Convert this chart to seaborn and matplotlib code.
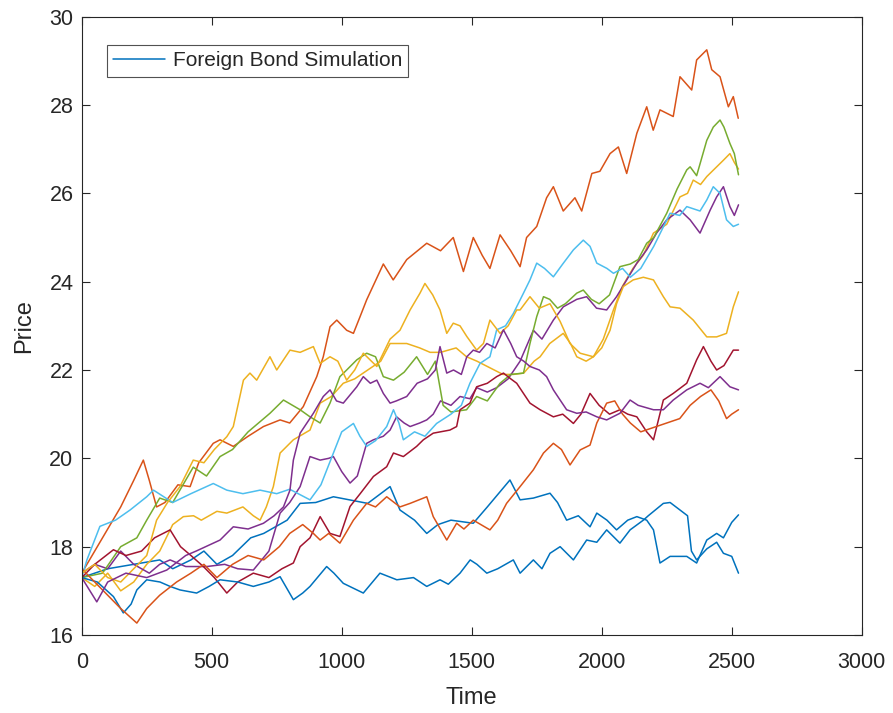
import matplotlib
matplotlib.use("Agg")
import matplotlib.pyplot as plt
import seaborn as sns
import pandas as pd

# ---- data (time, price) ----
blue1_t = [0, 100, 200, 300, 350, 420, 470, 520, 580, 650, 700, 790, 840, 900, 968, 1100, 1186, 1224, 1280, 1327, 1370, 1420, 1506, 1560, 1647, 1686, 1737, 1801, 1830, 1865, 1910, 1955, 1981, 2020, 2057, 2100, 2135, 2173, 2199, 2224, 2263, 2327, 2365, 2404, 2442, 2468, 2500, 2526]
blue1_v = [17.3, 17.5, 17.6, 17.7, 17.5, 17.7, 17.9, 17.6, 17.8, 18.2, 18.3, 18.6, 18.98, 19.0, 19.13, 18.98, 19.36, 18.83, 18.6, 18.3, 18.5, 18.6, 18.53, 18.9, 19.51, 19.06, 19.1, 19.21, 19.0, 18.6, 18.7, 18.45, 18.76, 18.6, 18.38, 18.6, 18.68, 18.6, 18.38, 17.63, 17.78, 17.78, 17.63, 18.15, 18.3, 18.2, 18.55, 18.72]

orange1_t = [0, 40, 100, 150, 200, 237, 260, 288, 320, 370, 417, 450, 506, 532, 583, 640, 699, 763, 800, 852, 904, 929, 955, 981, 1019, 1045, 1070, 1096, 1160, 1198, 1250, 1327, 1380, 1429, 1468, 1506, 1540, 1570, 1609, 1650, 1686, 1711, 1750, 1788, 1814, 1852, 1897, 1923, 1962, 1993, 2032, 2064, 2096, 2135, 2173, 2198, 2224, 2275, 2301, 2346, 2365, 2404, 2423, 2455, 2487, 2506, 2525]
orange1_v = [17.4, 17.8, 18.4, 18.9, 19.5, 19.96, 19.5, 18.9, 19.0, 19.4, 19.36, 19.9, 20.34, 20.42, 20.27, 20.5, 20.72, 20.87, 20.8, 21.17, 21.85, 22.3, 22.98, 23.13, 22.9, 22.83, 23.2, 23.59, 24.4, 24.04, 24.5, 24.87, 24.7, 25.0, 24.23, 25.0, 24.6, 24.3, 25.06, 24.7, 24.34, 25.0, 25.25, 25.9, 26.15, 25.6, 25.9, 25.6, 26.45, 26.5, 26.9, 27.05, 26.45, 27.36, 27.96, 27.43, 27.89, 27.74, 28.64, 28.34, 29.02, 29.25, 28.8, 28.64, 27.96, 28.19, 27.7]

yellow1_t = [0, 50, 100, 150, 200, 250, 300, 350, 391, 430, 460, 520, 558, 620, 660, 686, 710, 737, 763, 814, 878, 917, 960, 1006, 1050, 1100, 1150, 1186, 1250, 1300, 1340, 1380, 1440, 1480, 1520, 1570, 1620, 1660, 1700, 1740, 1763, 1800, 1852, 1880, 1904, 1940, 1968, 2006, 2045, 2080, 2120, 2160, 2199, 2250, 2301, 2330, 2352, 2380, 2404, 2442, 2468, 2493, 2510, 2526]
yellow1_v = [17.3, 17.1, 17.4, 17.0, 17.2, 17.6, 17.9, 18.5, 18.68, 18.7, 18.6, 18.8, 18.76, 18.9, 18.7, 18.6, 18.9, 19.36, 20.12, 20.42, 20.64, 21.25, 21.4, 21.7, 21.8, 22.0, 22.2, 22.6, 22.6, 22.5, 22.4, 22.4, 22.5, 22.3, 22.2, 22.05, 21.9, 21.9, 21.93, 22.2, 22.3, 22.6, 22.83, 22.6, 22.3, 22.2, 22.3, 22.7, 23.36, 23.9, 24.3, 24.6, 25.1, 25.3, 25.92, 26.0, 26.3, 26.2, 26.38, 26.6, 26.75, 26.9, 26.7, 26.55]

purple1_t = [0, 50, 100, 150, 200, 260, 300, 340, 400, 481, 550, 600, 660, 720, 763, 800, 840, 878, 917, 950, 968, 1000, 1032, 1060, 1096, 1122, 1160, 1186, 1211, 1240, 1263, 1300, 1327, 1352, 1380, 1420, 1455, 1493, 1519, 1560, 1596, 1640, 1686, 1737, 1770, 1814, 1852, 1904, 1942, 1980, 2019, 2057, 2096, 2135, 2173, 2211, 2250, 2301, 2340, 2378, 2417, 2442, 2468, 2493, 2510, 2526]
purple1_v = [17.4, 17.6, 17.5, 17.9, 17.6, 17.4, 17.6, 17.7, 17.55, 17.55, 17.6, 17.5, 17.47, 17.9, 18.76, 19.0, 19.36, 20.04, 19.96, 20.0, 20.04, 19.7, 19.44, 19.6, 20.34, 20.42, 20.5, 20.64, 20.94, 20.8, 20.72, 20.8, 20.87, 21.0, 21.3, 21.2, 21.4, 21.35, 21.6, 21.5, 21.6, 21.8, 22.2, 22.9, 22.7, 23.13, 23.43, 23.6, 23.66, 23.4, 23.36, 23.66, 24.04, 24.42, 24.72, 25.1, 25.4, 25.62, 25.4, 25.1, 25.62, 25.92, 26.15, 25.7, 25.5, 25.74]

green_t = [0, 80, 150, 212, 250, 300, 350, 429, 480, 532, 580, 640, 724, 776, 840, 878, 917, 955, 993, 1019, 1058, 1096, 1130, 1160, 1199, 1240, 1288, 1330, 1360, 1390, 1420, 1480, 1519, 1560, 1609, 1650, 1699, 1724, 1750, 1776, 1800, 1830, 1860, 1904, 1929, 1960, 1990, 2030, 2070, 2110, 2140, 2173, 2200, 2250, 2290, 2327, 2340, 2365, 2404, 2429, 2455, 2470, 2493, 2510, 2526]
green_v = [17.3, 17.4, 18.0, 18.2, 18.6, 19.1, 19.0, 19.8, 19.6, 20.04, 20.2, 20.6, 21.02, 21.32, 21.1, 20.94, 20.8, 21.25, 21.85, 22.0, 22.23, 22.38, 22.3, 21.85, 21.77, 21.95, 22.3, 21.9, 22.2, 21.2, 21.05, 21.1, 21.4, 21.3, 21.7, 21.9, 21.93, 22.6, 23.21, 23.66, 23.6, 23.4, 23.5, 23.74, 23.81, 23.6, 23.5, 23.7, 24.34, 24.4, 24.5, 24.87, 25.0, 25.55, 26.1, 26.53, 26.6, 26.4, 27.2, 27.5, 27.66, 27.5, 27.13, 26.9, 26.42]

lightblue_t = [0, 20, 70, 130, 186, 250, 276, 350, 420, 506, 558, 620, 686, 750, 800, 878, 920, 960, 1000, 1045, 1070, 1096, 1130, 1173, 1199, 1220, 1237, 1280, 1320, 1365, 1420, 1460, 1493, 1532, 1570, 1596, 1630, 1660, 1699, 1724, 1750, 1780, 1814, 1850, 1891, 1929, 1955, 1981, 2020, 2045, 2080, 2110, 2150, 2200, 2263, 2300, 2327, 2378, 2404, 2429, 2455, 2480, 2506, 2526]
lightblue_v = [17.3, 17.7, 18.46, 18.6, 18.83, 19.13, 19.28, 19.0, 19.2, 19.43, 19.28, 19.2, 19.28, 19.2, 19.3, 19.06, 19.4, 20.0, 20.6, 20.79, 20.5, 20.27, 20.4, 20.72, 21.1, 20.8, 20.42, 20.6, 20.5, 20.79, 21.0, 21.2, 21.7, 22.15, 22.3, 22.91, 23.0, 23.28, 23.74, 24.04, 24.42, 24.3, 24.11, 24.4, 24.72, 24.94, 24.8, 24.42, 24.3, 24.19, 24.3, 24.1, 24.3, 24.8, 25.55, 25.5, 25.7, 25.6, 25.85, 26.15, 26.0, 25.4, 25.25, 25.3]

darkred_t = [0, 50, 122, 170, 230, 280, 340, 380, 420, 468, 510, 558, 600, 660, 720, 770, 814, 840, 878, 917, 955, 993, 1032, 1071, 1122, 1173, 1199, 1237, 1288, 1314, 1352, 1416, 1442, 1455, 1493, 1519, 1560, 1596, 1622, 1650, 1673, 1699, 1724, 1763, 1814, 1850, 1891, 1920, 1955, 1990, 2030, 2070, 2100, 2135, 2173, 2199, 2237, 2275, 2327, 2365, 2391, 2420, 2442, 2470, 2506, 2526]
darkred_v = [17.3, 17.6, 17.93, 17.8, 17.9, 18.2, 18.38, 18.0, 17.8, 17.55, 17.3, 16.95, 17.2, 17.4, 17.3, 17.5, 17.63, 18.0, 18.2, 18.68, 18.3, 18.23, 18.91, 19.2, 19.59, 19.81, 20.12, 20.04, 20.27, 20.42, 20.57, 20.64, 20.72, 21.1, 21.25, 21.62, 21.7, 21.85, 21.93, 21.8, 21.7, 21.47, 21.25, 21.1, 20.94, 21.0, 20.79, 21.0, 21.47, 21.2, 21.0, 21.1, 21.0, 20.94, 20.6, 20.42, 21.32, 21.47, 21.7, 22.23, 22.53, 22.2, 22.0, 22.1, 22.45, 22.45]

blue2_t = [0, 60, 122, 160, 190, 212, 250, 301, 340, 378, 442, 490, 532, 600, 660, 720, 763, 814, 850, 878, 942, 970, 1006, 1083, 1147, 1212, 1276, 1327, 1378, 1410, 1455, 1494, 1520, 1558, 1600, 1660, 1686, 1737, 1770, 1801, 1840, 1891, 1942, 1981, 2019, 2070, 2109, 2160, 2179, 2237, 2263, 2301, 2330, 2345, 2365, 2404, 2442, 2468, 2500, 2526]
blue2_v = [17.3, 17.2, 16.87, 16.5, 16.7, 17.02, 17.25, 17.2, 17.1, 17.02, 16.95, 17.1, 17.25, 17.2, 17.1, 17.2, 17.32, 16.8, 16.95, 17.1, 17.55, 17.4, 17.17, 16.95, 17.4, 17.25, 17.3, 17.1, 17.25, 17.15, 17.4, 17.7, 17.6, 17.4, 17.5, 17.7, 17.4, 17.7, 17.5, 17.85, 18.0, 17.7, 18.15, 18.1, 18.38, 18.08, 18.38, 18.6, 18.7, 18.98, 19.0, 18.83, 18.7, 17.9, 17.7, 17.95, 18.1, 17.85, 17.78, 17.4]

orange2_t = [0, 50, 100, 150, 212, 250, 300, 365, 420, 470, 520, 580, 640, 700, 760, 800, 850, 891, 917, 950, 993, 1045, 1096, 1130, 1173, 1224, 1263, 1327, 1352, 1404, 1442, 1470, 1506, 1570, 1600, 1634, 1686, 1737, 1776, 1814, 1845, 1878, 1917, 1955, 1981, 2019, 2050, 2080, 2110, 2150, 2200, 2250, 2300, 2340, 2380, 2420, 2450, 2480, 2500, 2526]
orange2_v = [17.5, 17.2, 16.9, 16.6, 16.27, 16.6, 16.9, 17.2, 17.4, 17.6, 17.3, 17.6, 17.8, 17.7, 18.0, 18.3, 18.5, 18.3, 18.15, 18.3, 18.08, 18.6, 18.98, 18.9, 19.13, 18.9, 18.98, 19.13, 18.68, 18.15, 18.53, 18.4, 18.6, 18.38, 18.6, 18.98, 19.36, 19.74, 20.12, 20.34, 20.2, 19.85, 20.19, 20.3, 20.8, 21.25, 21.3, 21.0, 20.8, 20.6, 20.7, 20.8, 20.9, 21.2, 21.4, 21.55, 21.3, 20.9, 21.0, 21.1]

yellow2_t = [0, 50, 100, 150, 200, 250, 288, 330, 378, 429, 470, 510, 558, 583, 622, 647, 673, 724, 750, 801, 840, 891, 917, 955, 985, 1019, 1050, 1083, 1135, 1186, 1224, 1263, 1301, 1320, 1350, 1378, 1404, 1429, 1455, 1481, 1519, 1545, 1570, 1609, 1640, 1673, 1686, 1724, 1760, 1801, 1840, 1878, 1917, 1968, 2000, 2032, 2057, 2083, 2121, 2160, 2199, 2237, 2263, 2301, 2352, 2404, 2442, 2480, 2506, 2526]
yellow2_v = [17.4, 17.6, 17.3, 17.2, 17.5, 17.8, 18.6, 19.0, 19.36, 19.96, 19.9, 20.2, 20.49, 20.72, 21.77, 21.93, 21.77, 22.3, 22.0, 22.45, 22.4, 22.53, 22.15, 22.3, 22.2, 21.77, 22.0, 22.38, 22.08, 22.7, 22.9, 23.36, 23.74, 23.96, 23.7, 23.36, 22.83, 23.06, 23.0, 22.76, 22.45, 22.6, 23.13, 22.83, 23.0, 23.36, 23.36, 23.66, 23.4, 23.5, 23.1, 22.6, 22.38, 22.3, 22.5, 22.9, 23.5, 23.89, 24.04, 24.1, 24.04, 23.66, 23.43, 23.4, 23.13, 22.75, 22.75, 22.83, 23.43, 23.77]

purple2_t = [0, 58, 100, 170, 250, 327, 400, 440, 532, 583, 640, 699, 740, 776, 801, 814, 840, 891, 929, 955, 980, 1006, 1058, 1083, 1110, 1135, 1160, 1186, 1210, 1250, 1290, 1330, 1360, 1378, 1404, 1430, 1460, 1481, 1506, 1530, 1558, 1590, 1622, 1650, 1673, 1700, 1724, 1760, 1788, 1814, 1840, 1865, 1904, 1940, 1981, 2019, 2070, 2109, 2140, 2199, 2237, 2275, 2327, 2378, 2410, 2455, 2493, 2526]
purple2_v = [17.3, 16.75, 17.2, 17.4, 17.3, 17.47, 17.8, 17.9, 18.15, 18.45, 18.4, 18.53, 18.7, 18.9, 19.28, 19.96, 20.57, 21.02, 21.4, 21.55, 21.3, 21.25, 21.62, 21.85, 21.7, 21.77, 21.47, 21.25, 21.3, 21.4, 21.7, 21.8, 22.0, 22.53, 21.93, 22.0, 21.9, 22.3, 22.45, 22.4, 22.6, 22.5, 22.91, 22.6, 22.3, 22.2, 22.08, 22.0, 21.85, 21.55, 21.32, 21.1, 21.02, 21.05, 20.94, 20.87, 21.02, 21.32, 21.2, 21.1, 21.1, 21.32, 21.55, 21.7, 21.6, 21.85, 21.62, 21.55]

series = [
    (blue1_t, blue1_v, "#0072BD"),
    (orange1_t, orange1_v, "#D95319"),
    (yellow1_t, yellow1_v, "#EDB120"),
    (purple1_t, purple1_v, "#7E2F8E"),
    (green_t, green_v, "#77AC30"),
    (lightblue_t, lightblue_v, "#4DBEEE"),
    (darkred_t, darkred_v, "#A2142F"),
    (blue2_t, blue2_v, "#0072BD"),
    (orange2_t, orange2_v, "#D95319"),
    (yellow2_t, yellow2_v, "#EDB120"),
    (purple2_t, purple2_v, "#7E2F8E"),
]

x_ticks = [0, 500, 1000, 1500, 2000, 2500, 3000]
y_ticks = [16, 18, 20, 22, 24, 26, 28, 30]

sns.set_theme(style="white")
plt.rcParams["font.family"] = ["Liberation Sans", "DejaVu Sans"]

fig = plt.figure(figsize=(8.93, 7.13), dpi=100)
ax = fig.add_axes([0.0915, 0.1094, 0.8735, 0.8672])

for i, (t, v, c) in enumerate(series):
    df = pd.DataFrame({"Time": t, "Price": v})
    sns.lineplot(data=df, x="Time", y="Price", color=c, linewidth=1.1,
                 estimator=None, sort=False, ax=ax,
                 label="Foreign Bond Simulation" if i == 0 else None,
                 legend=(i == 0))

ax.set_xlim(0, 3000)
ax.set_ylim(16, 30)
ax.set_xticks(x_ticks)
ax.set_yticks(y_ticks)
ax.tick_params(direction="in", length=6, width=0.8, colors="#262626",
               labelsize=15.5, top=True, right=True, bottom=True, left=True)
ax.tick_params(axis="x", pad=12)
ax.tick_params(axis="y", pad=6)
for lab in ax.get_xticklabels() + ax.get_yticklabels():
    lab.set_color("#262626")
for s in ax.spines.values():
    s.set_color("#262626")
    s.set_linewidth(0.8)
    s.set_visible(True)
ax.set_xlabel("Time", fontsize=17, color="#262626", labelpad=10)
ax.set_ylabel("Price", fontsize=17, color="#262626", labelpad=10)

leg = ax.legend(loc="upper left", bbox_to_anchor=(0.0324, 0.954), frameon=True,
                fancybox=False, edgecolor="#262626", fontsize=15,
                handlelength=2.5, borderpad=0.3, handletextpad=0.35,
                borderaxespad=0.0)
leg.get_frame().set_linewidth(0.8)
for line in leg.get_lines():
    line.set_linewidth(1.1)

fig.savefig("out.png", dpi=100, facecolor="white")
